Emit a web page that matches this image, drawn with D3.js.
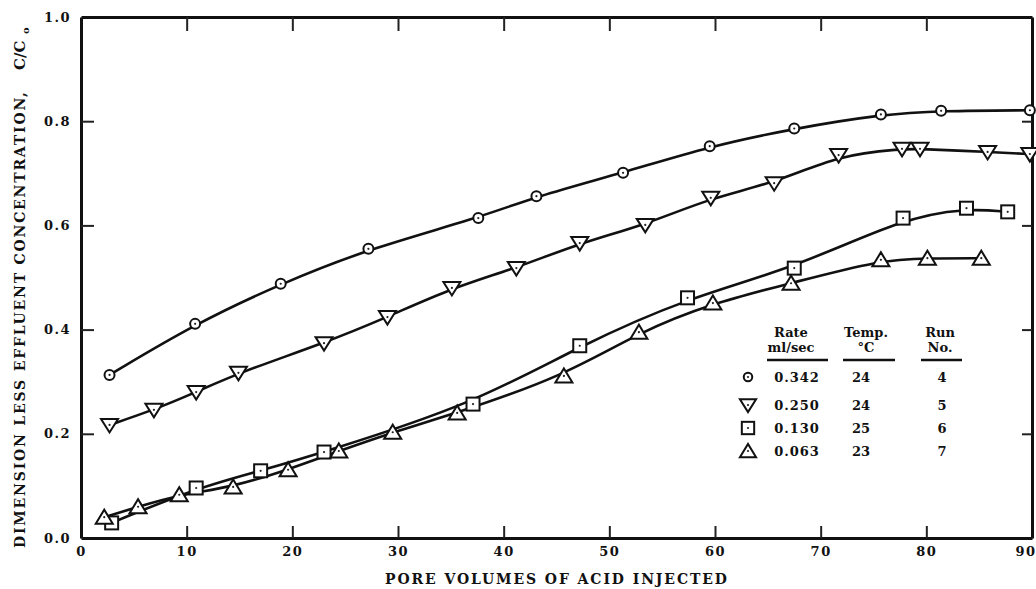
<!DOCTYPE html>
<html>
<head>
<meta charset="utf-8">
<script src="https://cdn.jsdelivr.net/npm/d3@7"></script>
<style>
  body { margin: 0; background: #fff; }
  svg { display: block; }
  .tick text { font-family: "DejaVu Serif", serif; font-weight: bold; font-size: 13px; letter-spacing: 1.5px; fill: #111; }
  .lbl { font-family: "DejaVu Serif", serif; font-weight: bold; fill: #111; }
</style>
</head>
<body>
<script>
// ---- data ----
  // run 4, rate 0.342 (circles)
  var run4X = [2.7, 10.8, 18.9, 27.2, 37.6, 43.1, 51.3, 59.5, 67.5, 75.7, 81.4, 89.8];
  var run4Y = [0.313, 0.411, 0.488, 0.555, 0.614, 0.656, 0.701, 0.752, 0.786, 0.813, 0.820, 0.821];
  // run 5, rate 0.250 (down triangles)
  var run5X = [2.7, 6.9, 10.9, 14.9, 23.0, 29.0, 35.1, 41.2, 47.2, 53.4, 59.6, 65.6, 71.7, 77.7, 79.4, 85.8, 89.8];
  var run5Y = [0.217, 0.246, 0.280, 0.317, 0.374, 0.424, 0.480, 0.518, 0.566, 0.601, 0.653, 0.681, 0.735, 0.747, 0.747, 0.741, 0.737];
  // run 6, rate 0.130 (squares)
  var run6X = [2.9, 10.9, 17.0, 23.0, 37.1, 47.2, 57.4, 67.5, 77.8, 83.8, 87.7];
  var run6Y = [0.029, 0.096, 0.129, 0.165, 0.257, 0.369, 0.461, 0.518, 0.614, 0.633, 0.626];
  // run 7, rate 0.063 (up triangles)
  var run7X = [2.2, 5.4, 9.3, 14.4, 19.6, 24.4, 29.5, 35.6, 45.7, 52.8, 59.8, 67.2, 75.7, 80.1, 85.2];
  var run7Y = [0.040, 0.060, 0.083, 0.098, 0.131, 0.167, 0.203, 0.240, 0.311, 0.395, 0.451, 0.489, 0.534, 0.537, 0.537];

  var xTicks = [0, 10, 20, 30, 40, 50, 60, 70, 80, 90];
  var yTicks = [0.0, 0.2, 0.4, 0.6, 0.8, 1.0];

  var legendRates = ["0.342", "0.250", "0.130", "0.063"];
  var legendTemps = ["24", "24", "25", "23"];
  var legendRuns = ["4", "5", "6", "7"];
  var legendSymbols = ["circle", "down", "square", "up"];
// -------------------------------------

// ---- layout ----
  var width_outer = 1036;
  var height_outer = 589;
  var axisWidth = 3;
  var lineWidth = 2.6;

  var x = d3.scaleLinear().domain([0, 90]).range([81, 1032]);
  var y = d3.scaleLinear().domain([0, 1]).range([538, 17]);

  var series = [
    {X: run4X, Y: run4Y, symbol: "circle"},
    {X: run5X, Y: run5Y, symbol: "down"},
    {X: run6X, Y: run6Y, symbol: "square"},
    {X: run7X, Y: run7Y, symbol: "up"}
  ];
// ----------------

var svg = d3.select("body").append("svg")
  .attr("width", width_outer)
  .attr("height", height_outer);

// ---- axes (ticks point inwards on all four sides) ----
  var bottom = svg.append("g")
    .attr("transform", "translate(0," + y(0) + ")")
    .call(d3.axisBottom(x).tickValues(xTicks).tickFormat(d3.format("d"))
      .tickSizeInner(-12).tickSizeOuter(0).tickPadding(9));
  var top = svg.append("g")
    .attr("transform", "translate(0," + y(1) + ")")
    .call(d3.axisTop(x).tickValues(xTicks.slice(1, -1)).tickFormat("")
      .tickSizeInner(-14).tickSizeOuter(0));
  var left = svg.append("g")
    .attr("transform", "translate(" + x(0) + ",0)")
    .call(d3.axisLeft(y).tickValues(yTicks).tickFormat(d3.format(".1f"))
      .tickSizeInner(-13).tickSizeOuter(0).tickPadding(10));
  var right = svg.append("g")
    .attr("transform", "translate(" + x(90) + ",0)")
    .call(d3.axisRight(y).tickValues(yTicks.slice(1, -1)).tickFormat("")
      .tickSizeInner(-10).tickSizeOuter(0));

  svg.selectAll(".domain").attr("stroke", "#111").attr("stroke-width", axisWidth);
  svg.selectAll(".tick line").attr("stroke", "#222").attr("stroke-width", 2);
  bottom.selectAll(".tick text").attr("font-family", null).attr("font-size", null);
  left.selectAll(".tick text").attr("font-family", null).attr("font-size", null);
  left.selectAll(".tick").filter(function(d) { return d === 0 || d === 1; }).select("line").remove();
  bottom.selectAll(".tick").filter(function(d) { return d === 0 || d === 90; }).select("line").remove();
  // the last label sits on the page edge: keep it inside
  bottom.selectAll(".tick").filter(function(d) { return d === 90; }).select("text")
    .attr("text-anchor", "end").attr("x", 4);

  // axis titles
  svg.append("text").attr("class", "lbl")
    .attr("x", 385).attr("y", 584)
    .attr("font-size", 14)
    .attr("textLength", 342).attr("lengthAdjust", "spacing")
    .text("PORE VOLUMES OF ACID INJECTED");

  var ytitle = svg.append("g").attr("transform", "translate(25,548) rotate(-90)");
  ytitle.append("text").attr("class", "lbl")
    .attr("x", 0).attr("y", 0).attr("font-size", 14)
    .attr("textLength", 456).attr("lengthAdjust", "spacing")
    .text("DIMENSION LESS EFFLUENT CONCENTRATION,");
  ytitle.append("text").attr("class", "lbl")
    .attr("x", 478).attr("y", 0).attr("font-size", 15)
    .text("C/C");
  ytitle.append("text").attr("class", "lbl")
    .attr("x", 514).attr("y", 4).attr("font-size", 10)
    .text("o");
// ------------------------------------------------------

// ---- markers ----
function drawSymbol(g, kind, size) {
  var s = size || 1;
  if (kind == "circle") {
    g.append("circle").attr("r", 5 * s);
  } else if (kind == "square") {
    g.append("rect").attr("x", -6.5 * s).attr("y", -6.5 * s)
      .attr("width", 13 * s).attr("height", 13 * s);
  } else if (kind == "down") {
    g.append("path").attr("d", "M" + (-8.5 * s) + "," + (-6 * s) + "L" + (8.5 * s) + "," + (-6 * s) + "L0," + (7.5 * s) + "Z");
  } else {
    g.append("path").attr("d", "M" + (-8.5 * s) + "," + (6.5 * s) + "L" + (8.5 * s) + "," + (6.5 * s) + "L0," + (-7.5 * s) + "Z");
  }
  g.selectAll("circle,rect,path")
    .attr("fill", "#fff").attr("stroke", "#111").attr("stroke-width", 2);
  g.append("circle").attr("r", 1.1).attr("fill", "#222");
}
// -----------------

// ---- curves and points ----
  var line = d3.line()
    .x(function(d) { return x(d.x); })
    .y(function(d) { return y(d.y); })
    .curve(d3.curveBasis);

  series.forEach(function(s) {
    var pts = s.X.map(function(v, i) { return {x: v, y: s.Y[i]}; });
    svg.append("path")
      .datum(pts)
      .attr("d", line)
      .attr("fill", "none")
      .attr("stroke", "#111")
      .attr("stroke-width", lineWidth);
  });

  series.forEach(function(s) {
    s.X.forEach(function(v, i) {
      var g = svg.append("g").attr("transform", "translate(" + x(v) + "," + y(s.Y[i]) + ")");
      drawSymbol(g, s.symbol);
    });
  });
// ---------------------------

// ---- legend table ----
  var legend = svg.append("g");
  var headCols = [
    {cx: 791, top: "Rate", bottom: "ml/sec", x1: 767, x2: 828},
    {cx: 866, top: "Temp.", bottom: "\u00B0C", x1: 843, x2: 895},
    {cx: 940, top: "Run", bottom: "No.", x1: 921, x2: 962}
  ];
  headCols.forEach(function(c) {
    legend.append("text").attr("class", "lbl").attr("font-size", 13)
      .attr("x", c.cx).attr("y", 337).attr("text-anchor", "middle").text(c.top);
    legend.append("text").attr("class", "lbl").attr("font-size", 13)
      .attr("x", c.cx).attr("y", 352).attr("text-anchor", "middle").text(c.bottom);
    legend.append("line").attr("x1", c.x1).attr("x2", c.x2)
      .attr("y1", 360).attr("y2", 360)
      .attr("stroke", "#111").attr("stroke-width", 2.5);
  });

  var rowY = [377, 405, 428, 451];
  legendRates.forEach(function(r, i) {
    var g = legend.append("g").attr("transform", "translate(748," + rowY[i] + ")");
    drawSymbol(g, legendSymbols[i], legendSymbols[i] == "circle" ? 0.85 : 0.95);
    legend.append("text").attr("class", "lbl").attr("font-size", 13)
      .attr("x", 797).attr("y", rowY[i] + 5).attr("text-anchor", "middle")
      .attr("letter-spacing", 1).text(r);
    legend.append("text").attr("class", "lbl").attr("font-size", 13)
      .attr("x", 861).attr("y", rowY[i] + 5).attr("text-anchor", "middle").text(legendTemps[i]);
    legend.append("text").attr("class", "lbl").attr("font-size", 13)
      .attr("x", 942).attr("y", rowY[i] + 5).attr("text-anchor", "middle").text(legendRuns[i]);
  });
// ----------------------
</script>
</body>
</html>
